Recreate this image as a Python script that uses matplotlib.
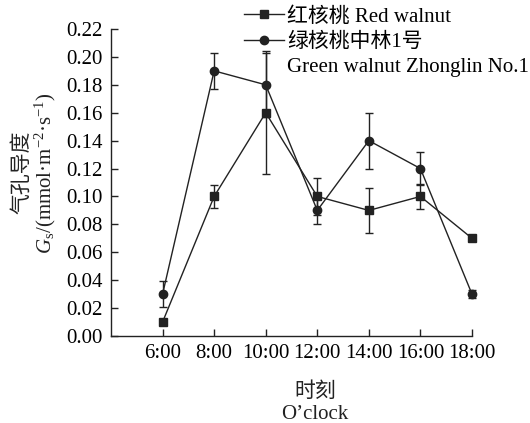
import matplotlib
matplotlib.use("Agg")
import matplotlib.pyplot as plt
from matplotlib.lines import Line2D
import numpy as np

plt.rcParams['font.family'] = ['Liberation Serif', 'Noto Sans CJK SC']
plt.rcParams['mathtext.fontset'] = 'custom'
plt.rcParams['mathtext.rm'] = 'Liberation Serif'
plt.rcParams['mathtext.it'] = 'Liberation Serif:italic'

# данные
times = ["6:00", "8:00", "10:00", "12:00", "14:00", "16:00", "18:00"]
red = [0.010, 0.100, 0.160, 0.100, 0.090, 0.100, 0.070]
red_err = [0.000, 0.008, 0.044, 0.013, 0.016, 0.009, 0.000]
green = [0.030, 0.190, 0.180, 0.090, 0.140, 0.120, 0.030]
green_err = [0.0095, 0.013, 0.023, 0.010, 0.020, 0.012, 0.003]
labels = ["红核桃 Red walnut", "绿核桃中林1号", "Green walnut Zhonglin No.1"]

x = np.arange(1, len(times) + 1)
col = "#222222"

fig = plt.figure(figsize=(5.3, 4.23), dpi=100)
ax = fig.add_axes([111 / 530, 1 - 336 / 423, (472 - 111) / 530, (336 - 29) / 423])

ax.errorbar(x, red, yerr=red_err, color=col, lw=1, marker="s", ms=5.5,
            capsize=3, elinewidth=1, capthick=1, clip_on=False)
ax.errorbar(x, green, yerr=green_err, color=col, lw=1, marker="o", ms=6,
            capsize=3, elinewidth=1, capthick=1, clip_on=False)

ax.set_xlim(0, 7)
ax.set_ylim(0, 0.22)
ax.set_xticks(x)
ax.set_xticklabels(times)
ax.set_yticks(np.arange(0, 0.221, 0.02))
ax.set_yticklabels([f"{v:.2f}" for v in np.arange(0, 0.221, 0.02)])
ax.tick_params(direction="in", length=5, width=1, labelsize=15, color=col, pad=6)
for s in ["top", "right"]:
    ax.spines[s].set_visible(False)
for s in ["left", "bottom"]:
    ax.spines[s].set_color(col)
    ax.spines[s].set_linewidth(1)

# легенда: третья строка без маркера
handles = [
    Line2D([], [], color=col, lw=1, marker="s", ms=5.5),
    Line2D([], [], color=col, lw=1, marker="o", ms=6),
    Line2D([], [], color="none"),
]
ax.legend(handles, labels, loc="upper left", bbox_to_anchor=(242 / 530, 1 - 5 / 423),
          bbox_transform=fig.transFigure, frameon=False, fontsize=15,
          handlelength=1.9, handletextpad=0.15, labelspacing=0.27,
          borderaxespad=0, borderpad=0.1)

fig.text(22 / 530, 1 - 172 / 423, "气孔导度", rotation=90, fontsize=15,
         ha="center", va="center", color=col)
fig.text(45 / 530, 1 - 173 / 423, r"$G_{\rm s}$/(mmol·m$^{-2}$·s$^{-1}$)", rotation=90,
         fontsize=15, ha="center", va="center", color=col)
fig.text(315 / 530, 1 - 392 / 423, "时刻", fontsize=15, ha="center", va="center", color=col)
fig.text(315 / 530, 1 - 414 / 423, "O’clock", fontsize=15, ha="center", va="center", color=col)

fig.savefig("out.png", dpi=100)
